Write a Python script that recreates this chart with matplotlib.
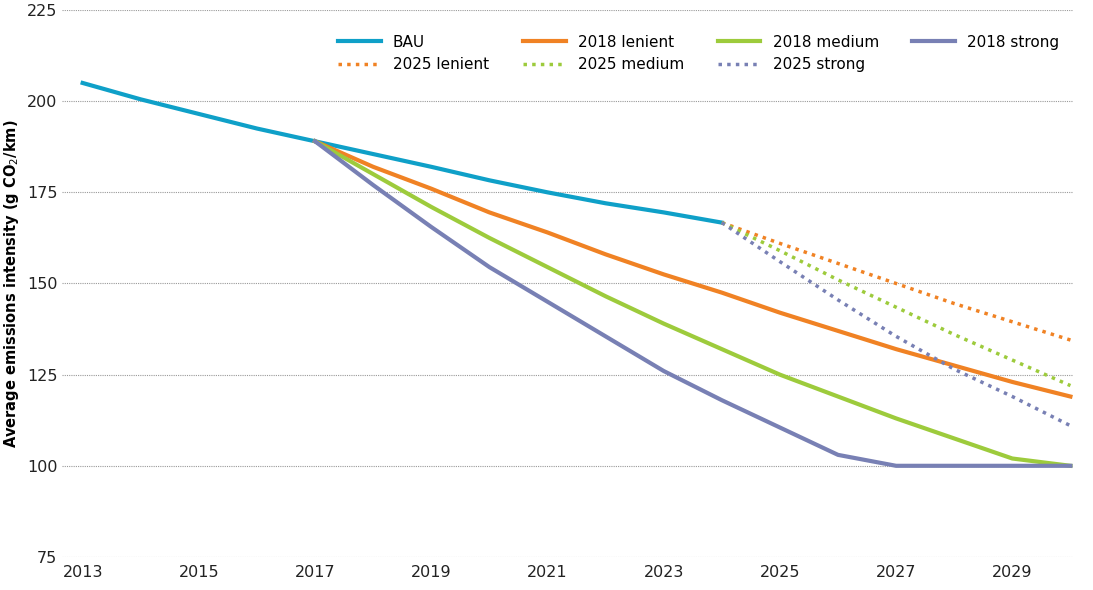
import matplotlib.pyplot as plt

years_bau = list(range(2013, 2025))
bau = [205, 200.5, 196.5, 192.5, 189, 185.5, 182, 178.3, 175, 172, 169.5, 166.7]

years_2018 = list(range(2017, 2031))
lenient_2018 = [189, 182, 176, 169.5, 164, 158, 152.5, 147.5, 142, 137, 132, 127.5, 123, 119]
medium_2018 = [189, 180, 171, 162.5, 154.5, 146.5, 139, 132, 125, 119, 113, 107.5, 102, 100]
strong_2018 = [189, 177, 165.5, 154.5, 145, 135.5, 126, 118, 110.5, 103, 100, 100, 100, 100]

years_2025 = list(range(2024, 2031))
lenient_2025 = [166.7, 161, 155.5, 150, 144.5, 139.5, 134.5]
medium_2025 = [166.7, 159, 151, 143.5, 136, 129, 122]
strong_2025 = [166.7, 156, 145.5, 135.5, 126.5, 119, 111]

c_bau, c_len, c_med, c_str = '#0fa0c8', '#f08224', '#9dcb3c', '#7880b4'
dots = (0, (1, 1.5))

fig = plt.figure(figsize=(10.93, 5.90), dpi=100)
ax = fig.add_axes([0.057, 0.056, 0.925, 0.927])

h_bau, = ax.plot(years_bau, bau, color=c_bau, lw=3, label='BAU')
h_l18, = ax.plot(years_2018, lenient_2018, color=c_len, lw=3, label='2018 lenient')
h_m18, = ax.plot(years_2018, medium_2018, color=c_med, lw=3, label='2018 medium')
h_s18, = ax.plot(years_2018, strong_2018, color=c_str, lw=3, label='2018 strong')
h_l25, = ax.plot(years_2025, lenient_2025, color=c_len, lw=2.5, ls=dots, label='2025 lenient')
h_m25, = ax.plot(years_2025, medium_2025, color=c_med, lw=2.5, ls=dots, label='2025 medium')
h_s25, = ax.plot(years_2025, strong_2025, color=c_str, lw=2.5, ls=dots, label='2025 strong')

ax.set_xlim(2012.65, 2030.05)
ax.set_ylim(75, 225)
ax.set_xticks(range(2013, 2030, 2))
ax.set_yticks(range(75, 226, 25))
ax.grid(axis='y', color='#999999', ls=(0, (1, 1)), lw=0.8)
ax.set_axisbelow(True)
for s in ax.spines.values():
    s.set_visible(False)
ax.tick_params(length=0, labelsize=11.5, colors='#222222')
ax.tick_params(axis='x', pad=6)
ax.set_ylabel('Average emissions intensity (g CO$_2$/km)', fontsize=10.5, fontweight='bold')

# column-major fill so that rows read like the original
handles = [h_bau, h_l25, h_l18, h_m25, h_m18, h_s25, h_s18]
ax.legend(handles=handles, labels=[h.get_label() for h in handles], ncol=4,
          loc='upper right', bbox_to_anchor=(1.0, 0.98), frameon=False,
          fontsize=11, handlelength=2.8, columnspacing=2.2)

fig.savefig('out.png')
